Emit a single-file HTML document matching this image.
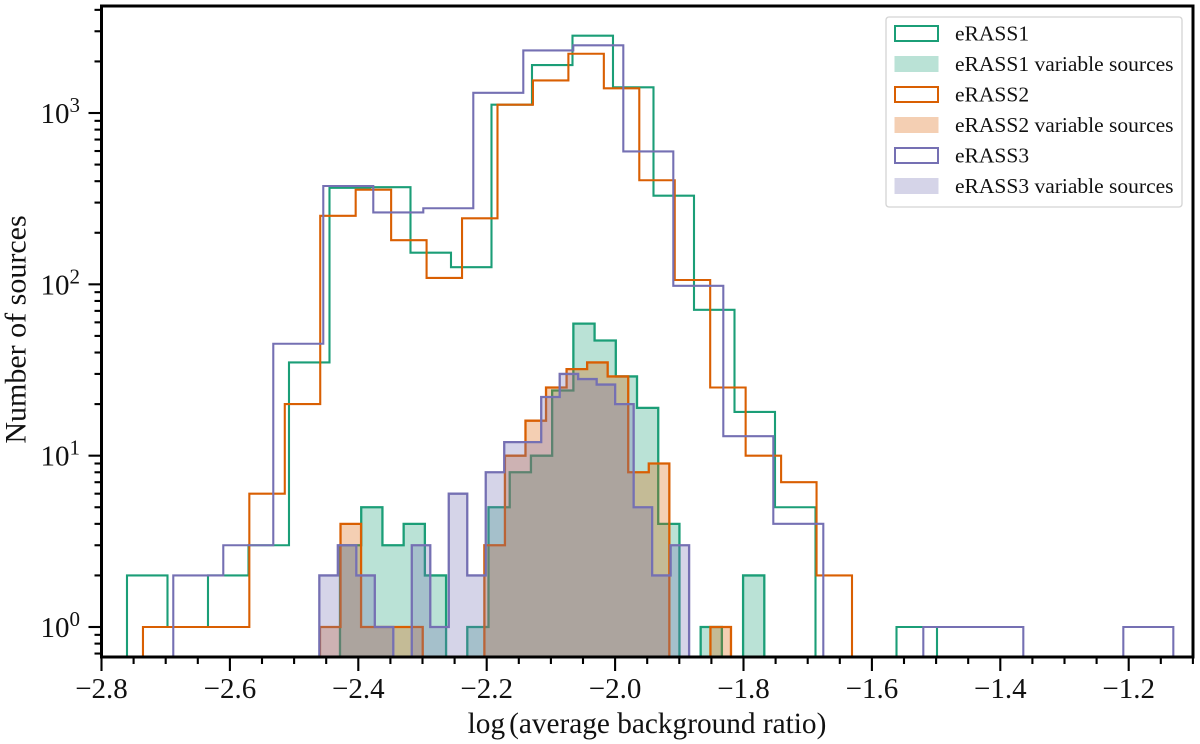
<!DOCTYPE html>
<html>
<head>
<meta charset="utf-8">
<title>Histogram of average background ratio</title>
<style>
html,body{margin:0;padding:0;background:#fff;width:1200px;height:744px;overflow:hidden}
svg{display:block;filter:blur(0.35px)}
text{font-family:"Liberation Serif",serif;fill:#111}
</style>
</head>
<body>
<svg id="chart" xmlns="http://www.w3.org/2000/svg" width="1200" height="744" viewBox="0 0 1200 744">
  <defs>
    <clipPath id="axes-clip"><rect x="101.5" y="6" width="1091.5" height="651"/></clipPath>
  </defs>
  <rect x="0" y="0" width="1200" height="744" fill="#fff"/>
  <g id="series-layer" clip-path="url(#axes-clip)"></g>
  <g id="tick-layer"></g>
  <rect x="101.5" y="6" width="1091.5" height="651" fill="none" stroke="#000" stroke-width="3"/>
  <text x="647" y="733" font-size="29.3" text-anchor="middle">log<tspan dx="4">(average background ratio)</tspan></text>
  <text transform="translate(25.5,329.5) rotate(-90)" font-size="30" text-anchor="middle">Number of sources</text>
  <g>
    <rect x="886" y="17" width="296" height="190" rx="3" ry="3" fill="#fff" stroke="#d4d4d4" stroke-width="1.3"/>
    <rect x="895" y="26" width="43" height="15" fill="none" stroke="#1b9e77" stroke-width="2"/>
    <text x="955" y="40.5" font-size="21.5">eRASS1</text>
    <rect x="894.5" y="56" width="44" height="16" fill="#1b9e77" fill-opacity="0.3"/>
    <text x="955" y="71" font-size="21.5">eRASS1 variable sources</text>
    <rect x="895" y="87" width="43" height="15" fill="none" stroke="#d95f02" stroke-width="2"/>
    <text x="955" y="101.5" font-size="21.5">eRASS2</text>
    <rect x="894.5" y="117" width="44" height="16" fill="#d95f02" fill-opacity="0.3"/>
    <text x="955" y="132" font-size="21.5">eRASS2 variable sources</text>
    <rect x="895" y="148" width="43" height="15" fill="none" stroke="#7570b3" stroke-width="2"/>
    <text x="955" y="162.5" font-size="21.5">eRASS3</text>
    <rect x="894.5" y="178" width="44" height="16" fill="#7570b3" fill-opacity="0.3"/>
    <text x="955" y="193" font-size="21.5">eRASS3 variable sources</text>
  </g>
</svg>
<script>
// Data ranges and counts per histogram (20 equal-width bins each)
const erass1Range = [-2.7603, -1.4986];
const erass1Counts = [2, 1, 2, 3, 35, 366, 369, 153, 126, 1119, 1905, 2826, 1413, 329, 71, 18, 5, 0, 0, 1];
const erass1VarRange = [-2.4285, -1.7676];
const erass1VarCounts = [3, 5, 3, 4, 2, 0, 1, 5, 8, 10, 24, 59, 47, 29, 19, 4, 0, 1, 0, 2];
const erass2Range = [-2.7354, -1.6310];
const erass2Counts = [1, 1, 1, 6, 20, 251, 357, 181, 109, 243, 1119, 1549, 2218, 1394, 405, 106, 25, 10, 7, 2];
const erass2VarRange = [-2.4597, -1.8195];
const erass2VarCounts = [1, 4, 1, 1, 1, 0, 0, 0, 3, 10, 16, 25, 32, 35, 29, 8, 9, 0, 0, 1];
const erass3Range = [-2.6882, -1.1305];
const erass3Counts = [2, 3, 45, 375, 263, 278, 1312, 2319, 2483, 597, 98, 13, 4, 0, 0, 1, 1, 0, 0, 1];
const erass3VarRange = [-2.4607, -1.8847];
const erass3VarCounts = [2, 3, 2, 1, 0, 3, 1, 6, 2, 8, 12, 12, 22, 30, 28, 26, 20, 5, 2, 3];
const xTickValues = [-2.8, -2.6, -2.4, -2.2, -2.0, -1.8, -1.6, -1.4, -1.2];
const xTickLabels = ["−2.8", "−2.6", "−2.4", "−2.2", "−2.0", "−1.8", "−1.6", "−1.4", "−1.2"];
const yTickExponents = [0, 1, 2, 3];
const yMinorMultipliers = [2, 3, 4, 5, 6, 7, 8, 9];

const NS = "http://www.w3.org/2000/svg";
const AXIS_LEFT = 101.5, AXIS_BOTTOM = 657, PX_PER_X = 642, Y_ZERO = 627, PX_PER_DECADE = 171.33;
const X_MIN = -2.8, X_MAX = -1.1, Y_MIN = 0.668, Y_MAX = 4217;

function xScale(v) { return AXIS_LEFT + (v - X_MIN) * PX_PER_X; }
function yScale(n) { return n > 0 ? Y_ZERO - Math.log10(n) * PX_PER_DECADE : AXIS_BOTTOM + 6; }

function stepPath(range, counts) {
  const w = (range[1] - range[0]) / counts.length;
  let d = "M" + xScale(range[0]).toFixed(2) + " " + (AXIS_BOTTOM + 6);
  counts.forEach(function (c, i) {
    const y = yScale(c).toFixed(2);
    d += "L" + xScale(range[0] + i * w).toFixed(2) + " " + y;
    d += "L" + xScale(range[0] + (i + 1) * w).toFixed(2) + " " + y;
  });
  d += "L" + xScale(range[1]).toFixed(2) + " " + (AXIS_BOTTOM + 6);
  return d;
}

const seriesLayer = document.getElementById("series-layer");

function drawStep(name, range, counts, color, width) {
  const el = document.createElementNS(NS, "path");
  el.setAttribute("d", stepPath(range, counts));
  el.setAttribute("fill", "none");
  el.setAttribute("stroke", color);
  el.setAttribute("stroke-width", width);
  el.setAttribute("stroke-linejoin", "miter");
  
  
  seriesLayer.appendChild(el);
}

function drawFill(name, range, counts, color) {
  const el = document.createElementNS(NS, "path");
  el.setAttribute("d", stepPath(range, counts) + "Z");
  el.setAttribute("fill", color);
  el.setAttribute("fill-opacity", "0.3");
  el.setAttribute("stroke", "none");
  
  
  seriesLayer.appendChild(el);
}

const GREEN = "#1b9e77", ORANGE = "#d95f02", PURPLE = "#7570b3";
drawStep("erass1-histogram", erass1Range, erass1Counts, GREEN, 2.1);
drawFill("erass1-variable-fill", erass1VarRange, erass1VarCounts, GREEN);
drawStep("erass1-variable-outline", erass1VarRange, erass1VarCounts, GREEN, 2.3);
drawStep("erass2-histogram", erass2Range, erass2Counts, ORANGE, 2.1);
drawFill("erass2-variable-fill", erass2VarRange, erass2VarCounts, ORANGE);
drawStep("erass2-variable-outline", erass2VarRange, erass2VarCounts, ORANGE, 2.3);
drawStep("erass3-histogram", erass3Range, erass3Counts, PURPLE, 2.1);
drawFill("erass3-variable-fill", erass3VarRange, erass3VarCounts, PURPLE);
drawStep("erass3-variable-outline", erass3VarRange, erass3VarCounts, PURPLE, 2.3);

const tickLayer = document.getElementById("tick-layer");

function drawTick(name, x1, y1, x2, y2) {
  const el = document.createElementNS(NS, "line");
  el.setAttribute("x1", x1);
  el.setAttribute("y1", y1);
  el.setAttribute("x2", x2);
  el.setAttribute("y2", y2);
  el.setAttribute("stroke", "#000");
  el.setAttribute("stroke-width", "2.1");
  
  
  tickLayer.appendChild(el);
}

// X axis: major ticks with labels, minor ticks every 0.05
xTickValues.forEach(function (v, i) {
  const px = xScale(v);
  drawTick("x-major-tick", px, AXIS_BOTTOM, px, AXIS_BOTTOM + 14);
  const label = document.createElementNS(NS, "text");
  label.setAttribute("x", px);
  label.setAttribute("y", 698);
  label.setAttribute("font-size", "29");
  label.setAttribute("text-anchor", "middle");
  label.textContent = xTickLabels[i];
  
  
  tickLayer.appendChild(label);
});
for (let k = 0; X_MIN + k * 0.05 <= X_MAX + 1e-9; k++) {
  if (k % 4 === 0) continue;
  const px = xScale(X_MIN + k * 0.05);
  drawTick("x-minor-tick", px, AXIS_BOTTOM, px, AXIS_BOTTOM + 7);
}

// Y axis: decades with labels, log minor ticks
yTickExponents.forEach(function (e) {
  const py = yScale(Math.pow(10, e));
  drawTick("y-major-tick", AXIS_LEFT, py, AXIS_LEFT - 13, py);
  const label = document.createElementNS(NS, "text");
  label.setAttribute("x", 80);
  label.setAttribute("y", py + 10);
  label.setAttribute("font-size", "29");
  label.setAttribute("text-anchor", "end");
  
  
  const base = document.createElementNS(NS, "tspan");
  base.textContent = "10";
  
  
  label.appendChild(base);
  const sup = document.createElementNS(NS, "tspan");
  sup.setAttribute("dy", "-11");
  sup.setAttribute("font-size", "21");
  sup.textContent = String(e);
  
  
  label.appendChild(sup);
  tickLayer.appendChild(label);
});
[-1, 0, 1, 2, 3].forEach(function (e) {
  yMinorMultipliers.forEach(function (m) {
    const n = m * Math.pow(10, e);
    if (n < Y_MIN || n > Y_MAX) return;
    const py = yScale(n);
    drawTick("y-minor-tick", AXIS_LEFT, py, AXIS_LEFT - 7, py);
  });
});
</script>
</body>
</html>
